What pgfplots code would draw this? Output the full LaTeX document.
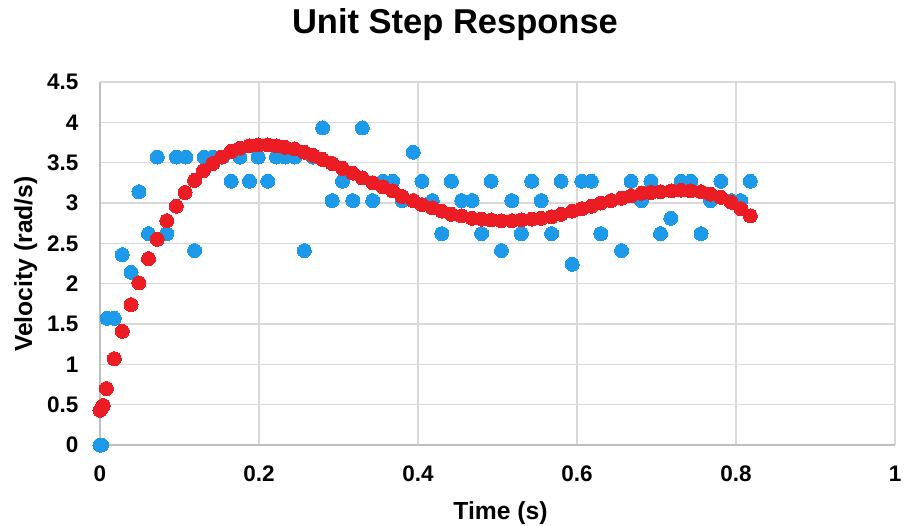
\documentclass[border=0pt]{standalone}
\usepackage{pgfplots}
\pgfplotsset{compat=1.18}
\usepackage{fontspec}
\setmainfont{Liberation Sans}
\definecolor{ptblue}{RGB}{28,153,232}
\definecolor{ptred}{RGB}{236,28,36}
\definecolor{gridc}{RGB}{217,217,217}
\definecolor{axisc}{RGB}{191,191,191}
\begin{document}
\begin{tikzpicture}
\path[use as bounding box] (-100bp,-81bp) rectangle (804bp,445bp);
\begin{axis}[
  at={(0,0)}, anchor=south west,
  scale only axis, width=795bp, height=363bp,
  xmin=0, xmax=1, ymin=0, ymax=4.5,
  xtick={0,0.2,0.4,0.6,0.8,1},
  ytick={0,0.5,1,1.5,2,2.5,3,3.5,4,4.5},
  grid=major,
  major grid style={draw=gridc, line width=1.3bp},
  axis x line*=bottom, axis y line*=left,
  axis line style={draw=axisc, line width=1.6bp, -},
  major tick length=0pt,
  clip=false,
  /pgf/number format/assume math mode=true,
  ticklabel style={font=\fontsize{22.5bp}{27bp}\selectfont\bfseries},
  xticklabel style={yshift=-17bp},
  yticklabel style={xshift=-18bp},
  every axis title shift=0pt,
  title={Unit Step Response},
  title style={at={(axis description cs:0.4465,1.134)}, anchor=base, font=\fontsize{34.5bp}{40bp}\selectfont\bfseries},
  xlabel={Time (s)},
  xlabel style={at={(axis description cs:0.5038,-0.2066)}, anchor=base, font=\fontsize{24.7bp}{30bp}\selectfont\bfseries},
  ylabel={Velocity (rad/s)},
  ylabel style={at={(axis description cs:-0.0935,0.4986)}, anchor=center, font=\fontsize{24.7bp}{30bp}\selectfont\bfseries},
]
\addplot[only marks, color=ptblue, mark=*, mark size=7bp, mark options={draw=ptblue, fill=ptblue, line width=0pt}] coordinates {
(0.000,0) (0.002,0) (0.009,1.57) (0.018,1.57) (0.028,2.36) (0.039,2.14)
(0.049,3.14) (0.061,2.62) (0.072,3.57) (0.084,2.62) (0.096,3.57) (0.108,3.57)
(0.119,2.41) (0.131,3.57) (0.142,3.57) (0.154,3.57) (0.165,3.27) (0.176,3.57)
(0.188,3.27) (0.199,3.57) (0.211,3.27) (0.222,3.57) (0.233,3.57) (0.245,3.57)
(0.257,2.41) (0.268,3.57) (0.280,3.93) (0.292,3.03) (0.305,3.27) (0.318,3.03)
(0.330,3.93) (0.343,3.03) (0.356,3.27) (0.368,3.27) (0.380,3.03) (0.394,3.63)
(0.405,3.27) (0.418,3.03) (0.430,2.62) (0.442,3.27) (0.455,3.03) (0.468,3.03)
(0.480,2.62) (0.492,3.27) (0.505,2.41) (0.518,3.03) (0.530,2.62) (0.543,3.27)
(0.555,3.03) (0.568,2.62) (0.580,3.27) (0.594,2.24) (0.606,3.27) (0.618,3.27)
(0.630,2.62) (0.643,3.03) (0.656,2.41) (0.668,3.27) (0.681,3.03) (0.693,3.27)
(0.705,2.62) (0.718,2.81) (0.731,3.27) (0.743,3.27) (0.756,2.62) (0.768,3.03)
(0.781,3.27) (0.794,3.03) (0.806,3.03) (0.818,3.27)
};
\addplot[only marks, color=ptred, mark=*, mark size=7bp, mark options={draw=ptred, fill=ptred, line width=0pt}] coordinates {
(0.000,0.43) (0.002,0.46) (0.004,0.49) (0.008,0.70) (0.018,1.07) (0.028,1.41)
(0.039,1.74) (0.049,2.01) (0.061,2.31) (0.072,2.55) (0.084,2.78) (0.096,2.96)
(0.107,3.13) (0.119,3.28) (0.130,3.40) (0.142,3.49) (0.153,3.57) (0.165,3.64)
(0.176,3.68) (0.188,3.71) (0.199,3.72) (0.211,3.72) (0.222,3.71) (0.233,3.69)
(0.245,3.67) (0.257,3.63) (0.268,3.59) (0.280,3.54) (0.292,3.49) (0.305,3.43)
(0.318,3.37) (0.330,3.31) (0.343,3.25) (0.356,3.20) (0.368,3.15) (0.380,3.08)
(0.394,3.03) (0.405,2.98) (0.418,2.94) (0.430,2.90) (0.442,2.86) (0.455,2.84)
(0.468,2.81) (0.480,2.80) (0.492,2.79) (0.505,2.78) (0.518,2.78) (0.530,2.79)
(0.543,2.80) (0.555,2.81) (0.568,2.83) (0.580,2.86) (0.594,2.90) (0.606,2.93)
(0.618,2.96) (0.630,3.00) (0.643,3.03) (0.656,3.06) (0.668,3.09) (0.681,3.12)
(0.693,3.13) (0.705,3.14) (0.719,3.15) (0.731,3.16) (0.743,3.15) (0.756,3.14)
(0.768,3.11) (0.781,3.07) (0.794,3.01) (0.806,2.93) (0.818,2.84)
};
\end{axis}
\end{tikzpicture}
\end{document}
